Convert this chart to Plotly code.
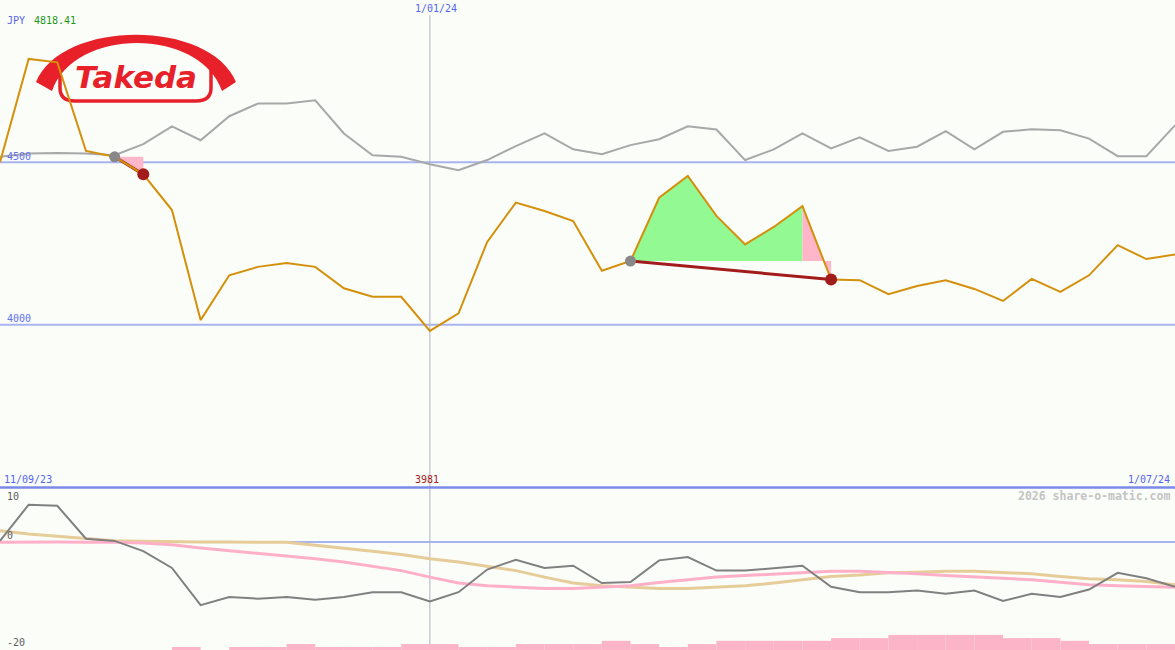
import plotly.graph_objects as go

# ---------------- data ----------------
close = [4500, 4818.41, 4808, 4535, 4517, 4463, 4353, 4014, 4152, 4178, 4190, 4178, 4112, 4086,
         4086, 3981, 4035, 4255, 4376, 4350, 4319, 4166, 4196, 4391, 4458, 4335, 4247, 4301,
         4365, 4139, 4137, 4094, 4119, 4137, 4110, 4073, 4141, 4101, 4152, 4245, 4202, 4216]
relative = [4517, 4527, 4529, 4527, 4522, 4556, 4611, 4568, 4642, 4681, 4681, 4691, 4589, 4522,
            4517, 4494, 4476, 4507, 4550, 4589, 4540, 4525, 4553, 4571, 4611, 4601, 4507, 4540,
            4589, 4543, 4577, 4535, 4548, 4596, 4540, 4594, 4602, 4599, 4573, 4519, 4519, 4614]
momentum = [0.2, 6.9, 6.7, 0.6, 0.2, -1.7, -4.8, -11.7, -10.2, -10.5, -10.2, -10.7, -10.2, -9.3,
            -9.3, -11.0, -9.3, -5.1, -3.3, -4.8, -4.4, -7.6, -7.4, -3.4, -2.8, -5.3, -5.3, -4.8,
            -4.4, -8.3, -9.3, -9.3, -9.0, -9.6, -9.0, -10.9, -9.6, -10.2, -8.8, -5.7, -6.7, -8.3]
slow_avg = [2.1, 1.5, 1.05, 0.6, 0.24, 0.13, 0, 0, 0, 0, -0.06, -0.6, -1.1, -1.7, -2.3, -3.1,
            -3.7, -4.5, -5.3, -6.5, -7.6, -8.1, -8.4, -8.6, -8.6, -8.4, -8.1, -7.6, -7.0, -6.4,
            -6.1, -5.7, -5.6, -5.4, -5.4, -5.6, -5.9, -6.4, -6.8, -7.0, -7.3, -7.9]
fast_avg = [-0.06, 0, 0, -0.06, -0.06, -0.2, -0.5, -1.1, -1.6, -2.0, -2.6, -3.1, -3.7, -4.5,
            -5.3, -6.5, -7.6, -8.1, -8.4, -8.6, -8.6, -8.4, -8.1, -7.5, -7.0, -6.5, -6.2, -5.9,
            -5.6, -5.4, -5.4, -5.6, -5.9, -6.2, -6.4, -6.7, -7.0, -7.5, -7.9, -8.1, -8.2, -8.4]
volume_bars = [0, 0, 0, 0, 0, 0, 0.56, 0, 0.56, 0.56, 1.1, 0.56, 0.56, 0.56, 1.1, 1.1, 0.56,
               0.56, 1.1, 1.1, 1.1, 1.7, 1.1, 0.56, 1.1, 1.7, 1.7, 1.7, 1.7, 2.2, 2.2, 2.8, 2.8,
               2.8, 2.8, 2.2, 2.2, 1.7, 1.1, 1.1, 1.1]
entry_idx = [4, 22]
exit_idx = [5, 29]
price_ticks = [4000, 4500]
osc_ticks = [10, 0, -20]
currency = "JPY"
date_start, date_mid, date_end = "11/09/23", "1/01/24", "1/07/24"
mid_idx = 15
watermark = "2026 share-o-matic.com"

# ---------------- styling ----------------
W, H = 1175, 650
BG = "#fafdf8"
ORANGE = "#d4900c"
DARKRED = "#a31c1c"
GRIDBLUE = "#a8b4f0"
SEPBLUE = "#7b8ae8"
LABELBLUE = "#5565f0"
LOGORED = "#e8202a"
MONO = "DejaVu Sans Mono"
top_bottom_px = 487
low_top_px = 488

n = len(close)
xs = list(range(n))

fig = go.Figure()

# --- fills for trades ---
for e, x in zip(entry_idx, exit_idx):
    lvl = close[e]
    if x - e > 1:
        gx = xs[e:x] + [x - 1, e]
        gy = close[e:x] + [lvl, lvl]
        fig.add_trace(go.Scatter(x=gx, y=gy, fill="toself", fillcolor="#93f993",
                                 line=dict(width=0), mode="lines", hoverinfo="skip"))
    px_ = [x - 1, x, x, x - 1]
    py_ = [close[x - 1], close[x], lvl, lvl]
    fig.add_trace(go.Scatter(x=px_, y=py_, fill="toself", fillcolor="#ffb6c8",
                             line=dict(width=0), mode="lines", hoverinfo="skip"))

# --- price-panel lines ---
fig.add_trace(go.Scatter(x=xs, y=relative, mode="lines",
                         line=dict(color="#a8a8a8", width=2), hoverinfo="skip"))
for e, x in zip(entry_idx, exit_idx):
    fig.add_trace(go.Scatter(x=[e, x], y=[close[e], close[x]], mode="lines",
                             line=dict(color=DARKRED, width=3), hoverinfo="skip"))
fig.add_trace(go.Scatter(x=xs, y=close, mode="lines",
                         line=dict(color=ORANGE, width=2), hoverinfo="skip"))
fig.add_trace(go.Scatter(x=entry_idx, y=[close[i] for i in entry_idx], mode="markers",
                         marker=dict(color="#888888", size=11, line=dict(width=0)),
                         hoverinfo="skip"))
fig.add_trace(go.Scatter(x=exit_idx, y=[close[i] for i in exit_idx], mode="markers",
                         marker=dict(color=DARKRED, size=12, line=dict(width=0)),
                         hoverinfo="skip"))

# --- oscillator panel ---
fig.add_trace(go.Bar(x=[i + 0.5 for i in range(len(volume_bars))], y=volume_bars, base=-20,
                     width=1, marker=dict(color="#fbb4c8", line=dict(width=0)),
                     yaxis="y2", hoverinfo="skip"))
fig.add_trace(go.Scatter(x=xs, y=slow_avg, mode="lines", yaxis="y2",
                         line=dict(color="#e6cc98", width=3), hoverinfo="skip"))
fig.add_trace(go.Scatter(x=xs, y=fast_avg, mode="lines", yaxis="y2",
                         line=dict(color="#ffb0c8", width=3), hoverinfo="skip"))
fig.add_trace(go.Scatter(x=xs, y=momentum, mode="lines", yaxis="y2",
                         line=dict(color="#808080", width=2), hoverinfo="skip"))


def pp(x, y):
    return f"{x / W:.5f} {1 - y / H:.5f}"


shapes = []
for t in price_ticks:
    shapes.append(dict(type="line", xref="paper", yref="y", x0=0, x1=1, y0=t, y1=t,
                       line=dict(color=GRIDBLUE, width=2), layer="below"))
shapes.append(dict(type="line", xref="paper", yref="y2", x0=0, x1=1, y0=0, y1=0,
                   line=dict(color=GRIDBLUE, width=2), layer="below"))
shapes.append(dict(type="line", xref="paper", yref="paper", x0=0, x1=1,
                   y0=1 - 487.5 / H, y1=1 - 487.5 / H,
                   line=dict(color=SEPBLUE, width=2.5), layer="above"))
shapes.append(dict(type="line", xref="x", yref="paper", x0=mid_idx, x1=mid_idx,
                   y0=0, y1=1 - 15 / H, line=dict(color="#b0b4c8", width=1), layer="below"))
# logo
arch = (f"M {pp(36, 82)} C {pp(62, 19)} {pp(210, 19)} {pp(236, 82)} L {pp(222, 91)} "
        f"C {pp(200, 27)} {pp(74, 27)} {pp(52, 91)} Z")
shapes.append(dict(type="path", xref="paper", yref="paper", path=arch,
                   fillcolor=LOGORED, line=dict(width=0), layer="below"))
pill = (f"M {pp(60, 66)} L {pp(60, 88)} Q {pp(60, 101)} {pp(75, 101)} L {pp(196, 101)} "
        f"Q {pp(211, 101)} {pp(211, 88)} L {pp(211, 66)}")
shapes.append(dict(type="path", xref="paper", yref="paper", path=pill,
                   fillcolor="rgba(0,0,0,0)", line=dict(color=LOGORED, width=3.5),
                   layer="below"))

ann = []


def label(text, x, y, color, size=10, xanchor="left", family=MONO, **kw):
    ann.append(dict(text=text, x=x / W, y=1 - y / H, xref="paper", yref="paper",
                    xanchor=xanchor, yanchor="middle", showarrow=False,
                    font=dict(family=family, size=size, color=color, **kw)))


label("Takeda", 136, 77, LOGORED, size=31, xanchor="center", family="DejaVu Sans",
      weight="bold", style="italic")
label(currency, 5, 21, LABELBLUE)
label(f"{max(close):.2f}", 32, 21, "#1a9a1a")
label(date_mid, 413, 9, LABELBLUE)
for t in price_ticks:
    label(str(t), 5, 487 - (t - 3500) / 1500 * 487 - 6, "#6070f0")
label(date_start, 2, 479, LABELBLUE)
label(f"{min(close):.0f}", 413, 479, DARKRED)
label(date_end, 1172, 479, LABELBLUE, xanchor="right")
label(watermark, 1172, 496, "#c4c4c4", size=11.5, xanchor="right", weight="bold")
osc_pos = {10: 496, 0: 535, -20: 642}
for t in osc_ticks:
    label(str(t), 5, osc_pos[t], "#606060")

fig.update_layout(
    width=W, height=H, margin=dict(l=0, r=0, t=0, b=0),
    paper_bgcolor=BG, plot_bgcolor=BG, showlegend=False, barmode="overlay",
    xaxis=dict(range=[0, n - 1], visible=False, fixedrange=True, domain=[0, 1]),
    yaxis=dict(range=[3500, 5000], visible=False, domain=[1 - top_bottom_px / H, 1],
               fixedrange=True),
    yaxis2=dict(range=[-20, 10], visible=False, domain=[0, 1 - low_top_px / H],
                anchor="x", fixedrange=True),
    shapes=shapes, annotations=ann,
)

fig.write_html("out.html", config={"displayModeBar": False, "staticPlot": True},
               post_script="document.body.style.margin='0';")
